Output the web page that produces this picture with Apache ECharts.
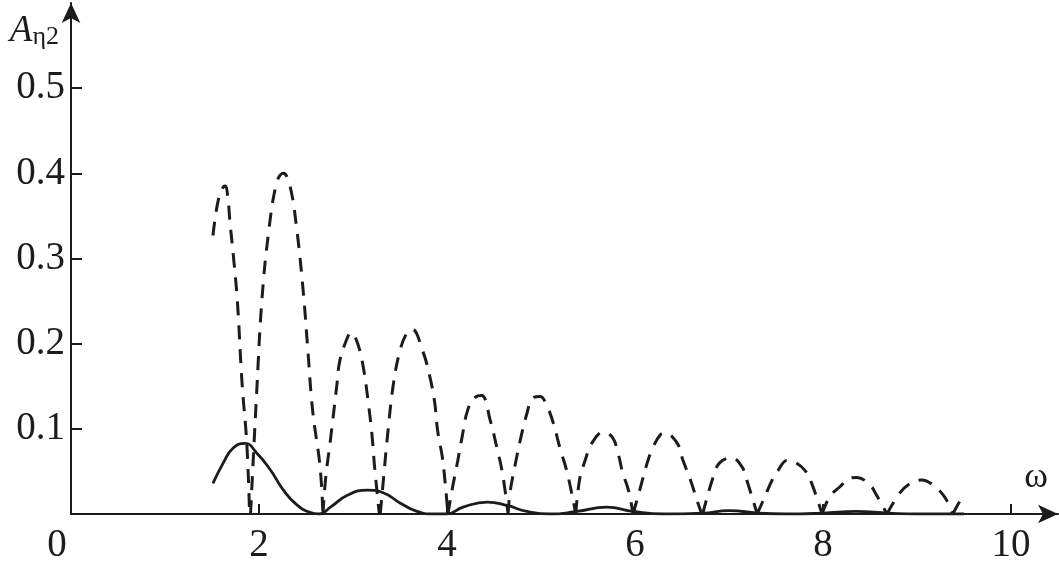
<!DOCTYPE html>
<html>
<head>
<meta charset="utf-8">
<script src="https://cdn.jsdelivr.net/npm/echarts@6/dist/echarts.min.js"></script>
<style>html,body{margin:0;padding:0;background:#fff;}#c{width:1059px;height:573px;}</style>
</head>
<body>
<div id="c"></div>
<script>
// x tick positions and labels
const xTicks = [2, 4, 6, 8, 10];
const xLabels = [0, 2, 4, 6, 8, 10];
const yTicks = [0.1, 0.2, 0.3, 0.4, 0.5];

// solid curve (omega, amplitude)
const solidW = [1.51,1.62,1.72,1.85,1.98,2.12,2.26,2.40,2.54,2.64,2.76,2.94,3.15,3.32,3.50,3.68,3.85,4.00,4.17,4.43,4.64,4.85,5.10,5.38,5.70,5.98,6.30,6.72,7.00,7.31,7.60,8.00,8.35,8.70,9.00,9.50];
const solidA = [0.036,0.060,0.077,0.083,0.071,0.052,0.028,0.011,0.002,0.000,0.008,0.022,0.028,0.025,0.013,0.003,0.000,0.000,0.008,0.014,0.010,0.003,0.000,0.003,0.008,0.003,0.000,0.001,0.004,0.001,0.000,0.001,0.003,0.001,0.000,0.000];

// dashed curve (omega, amplitude); null separates arches
const dashW = [
  1.51,1.56,1.61,1.64,1.67,1.69,1.73,1.77,1.82,1.87,1.90, null,
  1.91,1.98,2.03,2.10,2.19,2.26,2.33,2.40,2.47,2.52,2.57,2.65,2.68, null,
  2.68,2.71,2.76,2.83,2.86,2.94,2.98,3.05,3.11,3.16,3.20,3.23,3.28, null,
  3.29,3.32,3.37,3.43,3.50,3.57,3.63,3.74,3.82,3.87,3.90,3.95,3.98,4.01, null,
  4.01,4.05,4.11,4.16,4.22,4.30,4.37,4.46,4.53,4.59,4.65, null,
  4.65,4.67,4.72,4.78,4.85,4.91,4.99,5.07,5.13,5.20,5.28,5.37, null,
  5.37,5.41,5.47,5.54,5.66,5.76,5.82,5.87,5.93,5.98, null,
  5.98,6.05,6.13,6.19,6.27,6.32,6.45,6.51,6.59,6.66,6.71, null,
  6.72,6.83,6.90,7.03,7.14,7.20,7.30, null,
  7.30,7.38,7.46,7.52,7.62,7.70,7.81,7.88,7.99, null,
  7.99,8.07,8.18,8.29,8.36,8.50,8.57,8.68, null,
  8.68,8.82,8.93,9.05,9.17,9.30,9.38, null,
  9.38,9.47
];
const dashA = [
  0.327,0.365,0.382,0.385,0.370,0.344,0.300,0.250,0.153,0.083,0.000, null,
  0.000,0.153,0.250,0.329,0.390,0.400,0.385,0.336,0.262,0.192,0.122,0.055,0.000, null,
  0.000,0.043,0.087,0.153,0.180,0.207,0.213,0.200,0.172,0.133,0.095,0.055,0.000, null,
  0.000,0.036,0.095,0.153,0.192,0.212,0.217,0.192,0.160,0.130,0.098,0.067,0.037,0.000, null,
  0.000,0.026,0.060,0.090,0.122,0.137,0.139,0.110,0.078,0.048,0.000, null,
  0.000,0.025,0.055,0.087,0.118,0.136,0.138,0.125,0.107,0.078,0.048,0.000, null,
  0.000,0.040,0.063,0.083,0.096,0.090,0.071,0.048,0.028,0.000, null,
  0.000,0.028,0.060,0.078,0.093,0.095,0.083,0.063,0.040,0.016,0.000, null,
  0.000,0.043,0.060,0.066,0.055,0.036,0.000, null,
  0.000,0.020,0.040,0.051,0.063,0.061,0.051,0.036,0.000, null,
  0.000,0.020,0.032,0.042,0.043,0.034,0.022,0.000, null,
  0.000,0.025,0.036,0.040,0.034,0.019,0.000, null,
  0.000,0.018
];

const solidData = solidW.map((w, i) => [w, solidA[i]]);
const dashData = dashW.map((w, i) => (w === null ? ['-', '-'] : [w, dashA[i]]));

const ink = '#1c1c1c';
const serif = '"Liberation Serif", "Times New Roman", serif';

const chart = echarts.init(document.getElementById('c'), null, { renderer: 'canvas' });
chart.setOption({
  animation: false,
  backgroundColor: '#fff',
  grid: { left: 71, right: 1, top: 3, bottom: 59, containLabel: false },
  xAxis: {
    type: 'value', min: 0, max: 10.5,
    name: '\u03c9',
    nameLocation: 'end',
    nameGap: -10,
    nameTextStyle: { fontFamily: serif, fontSize: 36, color: ink, align: 'right', verticalAlign: 'bottom', padding: [0, 0, 18, 0] },
    axisLine: { lineStyle: { color: ink, width: 2 }, symbol: ['none', 'arrow'], symbolSize: [14, 20] },
    axisTick: { show: true, inside: true, length: 10, lineStyle: { color: ink, width: 2 }, customValues: xTicks },
    axisLabel: {
      customValues: xLabels,
      margin: 12,
      fontFamily: serif, fontSize: 39, color: ink,
      formatter: v => (v === 0 ? '{z|0}' : String(v)),
      rich: { z: { fontFamily: serif, fontSize: 39, color: ink, padding: [0, 28, 0, 0] } }
    },
    splitLine: { show: false }
  },
  yAxis: {
    type: 'value', min: 0, max: 0.6,
    name: '{a|A}{s|\u03b72}',
    nameLocation: 'end',
    nameGap: -7,
    nameTextStyle: {
      align: 'right', verticalAlign: 'top', padding: [0, 12, 0, 0],
      rich: {
        a: { fontFamily: serif, fontStyle: 'italic', fontSize: 37, color: ink, lineHeight: 40, verticalAlign: 'bottom' },
        s: { fontFamily: serif, fontSize: 26, color: ink, lineHeight: 28, verticalAlign: 'bottom' }
      }
    },
    axisLine: { lineStyle: { color: ink, width: 2 }, symbol: ['none', 'arrow'], symbolSize: [14, 20] },
    axisTick: { show: true, inside: true, length: 11, lineStyle: { color: ink, width: 2 }, customValues: yTicks },
    axisLabel: {
      customValues: yTicks,
      margin: 6,
      fontFamily: serif, fontSize: 39, color: ink,
      formatter: v => v.toFixed(1)
    },
    splitLine: { show: false }
  },
  series: [
    {
      type: 'line', data: solidData, smooth: 0.5, symbol: 'none', clip: true,
      lineStyle: { color: ink, width: 2.8 }, z: 3
    },
    {
      type: 'line', data: dashData, smooth: 0.4, symbol: 'none', clip: true, connectNulls: false,
      lineStyle: { color: ink, width: 3, type: [14, 10] }, z: 2
    }
  ]
});
</script>
</body>
</html>
